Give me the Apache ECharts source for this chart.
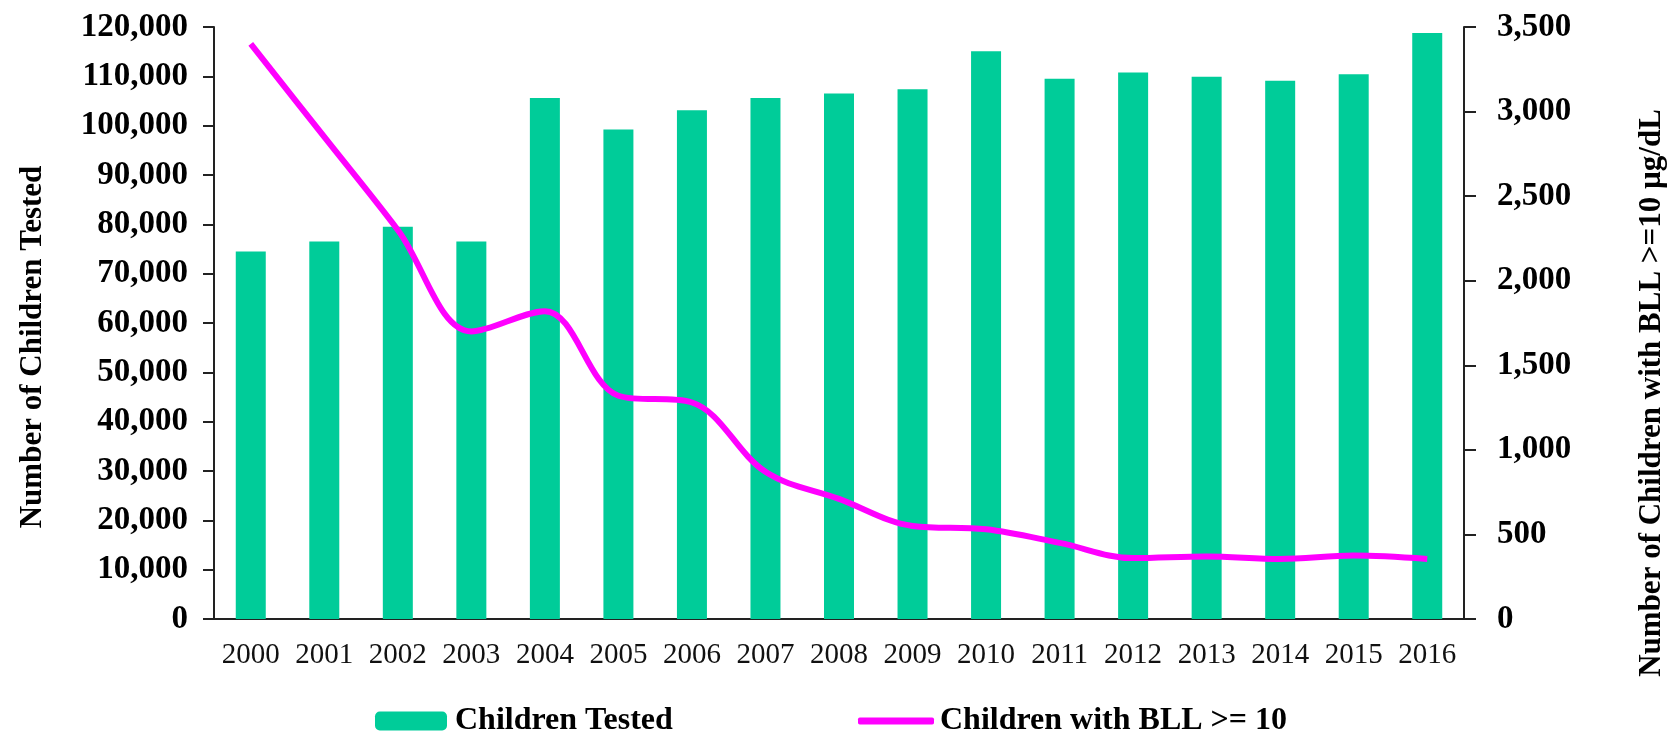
<!DOCTYPE html>
<html>
<head>
<meta charset="utf-8">
<title>Children Tested</title>
<script src="https://cdn.jsdelivr.net/npm/echarts@6/dist/echarts.min.js"></script>
<style>
  html, body { margin: 0; padding: 0; background: #fff; }
  #chart { width: 1674px; height: 738px; }
</style>
</head>
<body>
<div id="chart"></div>
<script>
const years = ["2000", "2001", "2002", "2003", "2004", "2005", "2006", "2007", "2008",
  "2009", "2010", "2011", "2012", "2013", "2014", "2015", "2016"];
const childrenTested = [74500, 76500, 79500, 76500, 105600, 99200, 103100, 105600, 106500,
  107400, 115100, 109500, 110800, 109900, 109100, 110400, 118800];
const childrenBll = [3400, 2850, 2300, 1700, 1820, 1320, 1280, 870, 710,
  550, 530, 450, 360, 370, 355, 375, 355];

const serif = "'Liberation Serif', 'Times New Roman', serif";
const fmt = v => v.toLocaleString("en-US");

const chart = echarts.init(document.getElementById("chart"));

const option = {
  animation: false,
  grid: { left: 214, right: 210, top: 27, bottom: 119, outerBoundsMode: "none", containLabel: false },
  legend: [
    {
      data: ["Children Tested"],
      left: 375, top: 705, padding: 0,
      itemWidth: 72, itemHeight: 19,
      textStyle: { fontFamily: serif, fontWeight: "bold", fontSize: 32, color: "#000", padding: [0, 0, 0, 3] }
    },
    {
      data: ["Children with BLL >= 10"],
      left: 858, top: 705, padding: 0,
      icon: "roundRect",
      itemWidth: 76, itemHeight: 7,
      textStyle: { fontFamily: serif, fontWeight: "bold", fontSize: 32, color: "#000", padding: [0, 0, 0, 1] }
    }
  ],
  xAxis: {
    type: "category",
    data: years,
    axisLine: { lineStyle: { color: "#222", width: 2 } },
    axisTick: { show: false },
    axisLabel: { fontFamily: serif, fontSize: 29, color: "#111", margin: 22, interval: 0 }
  },
  yAxis: [
    {
      type: "value",
      min: 0, max: 120000, interval: 10000,
      name: "Number of Children Tested",
      nameLocation: "middle",
      nameGap: 166,
      nameRotate: 90,
      nameTextStyle: { fontFamily: serif, fontWeight: "bold", fontSize: 31, color: "#000", padding: [0, 48, 0, 0] },
      axisLine: { show: true, lineStyle: { color: "#222", width: 2 } },
      axisTick: { show: true, length: 11, lineStyle: { color: "#222", width: 2 } },
      splitLine: { show: false },
      axisLabel: { fontFamily: serif, fontWeight: "bold", fontSize: 33, color: "#000", margin: 26, formatter: fmt }
    },
    {
      type: "value",
      min: 0, max: 3500, interval: 500,
      position: "right",
      name: "Number of Children with BLL >=10 µg/dL",
      nameLocation: "middle",
      nameGap: 172,
      nameRotate: 90,
      nameTextStyle: { fontFamily: serif, fontWeight: "bold", fontSize: 31, color: "#000", padding: [0, 140, 0, 0] },
      axisLine: { show: true, lineStyle: { color: "#222", width: 2 } },
      axisTick: { show: true, length: 12, lineStyle: { color: "#222", width: 2 } },
      splitLine: { show: false },
      axisLabel: { fontFamily: serif, fontWeight: "bold", fontSize: 33, color: "#000", margin: 33, formatter: fmt }
    }
  ],
  series: [
    {
      name: "Children Tested",
      type: "bar",
      yAxisIndex: 0,
      barWidth: 30,
      itemStyle: { color: "#00CC99" },
      data: childrenTested
    },
    {
      name: "Children with BLL >= 10",
      type: "line",
      yAxisIndex: 1,
      smooth: 0.35,
      symbol: "none",
      itemStyle: { color: "#FF00FF" },
      lineStyle: { color: "#FF00FF", width: 6 },
      data: childrenBll
    }
  ]
};

chart.setOption(option);
</script>
</body>
</html>
